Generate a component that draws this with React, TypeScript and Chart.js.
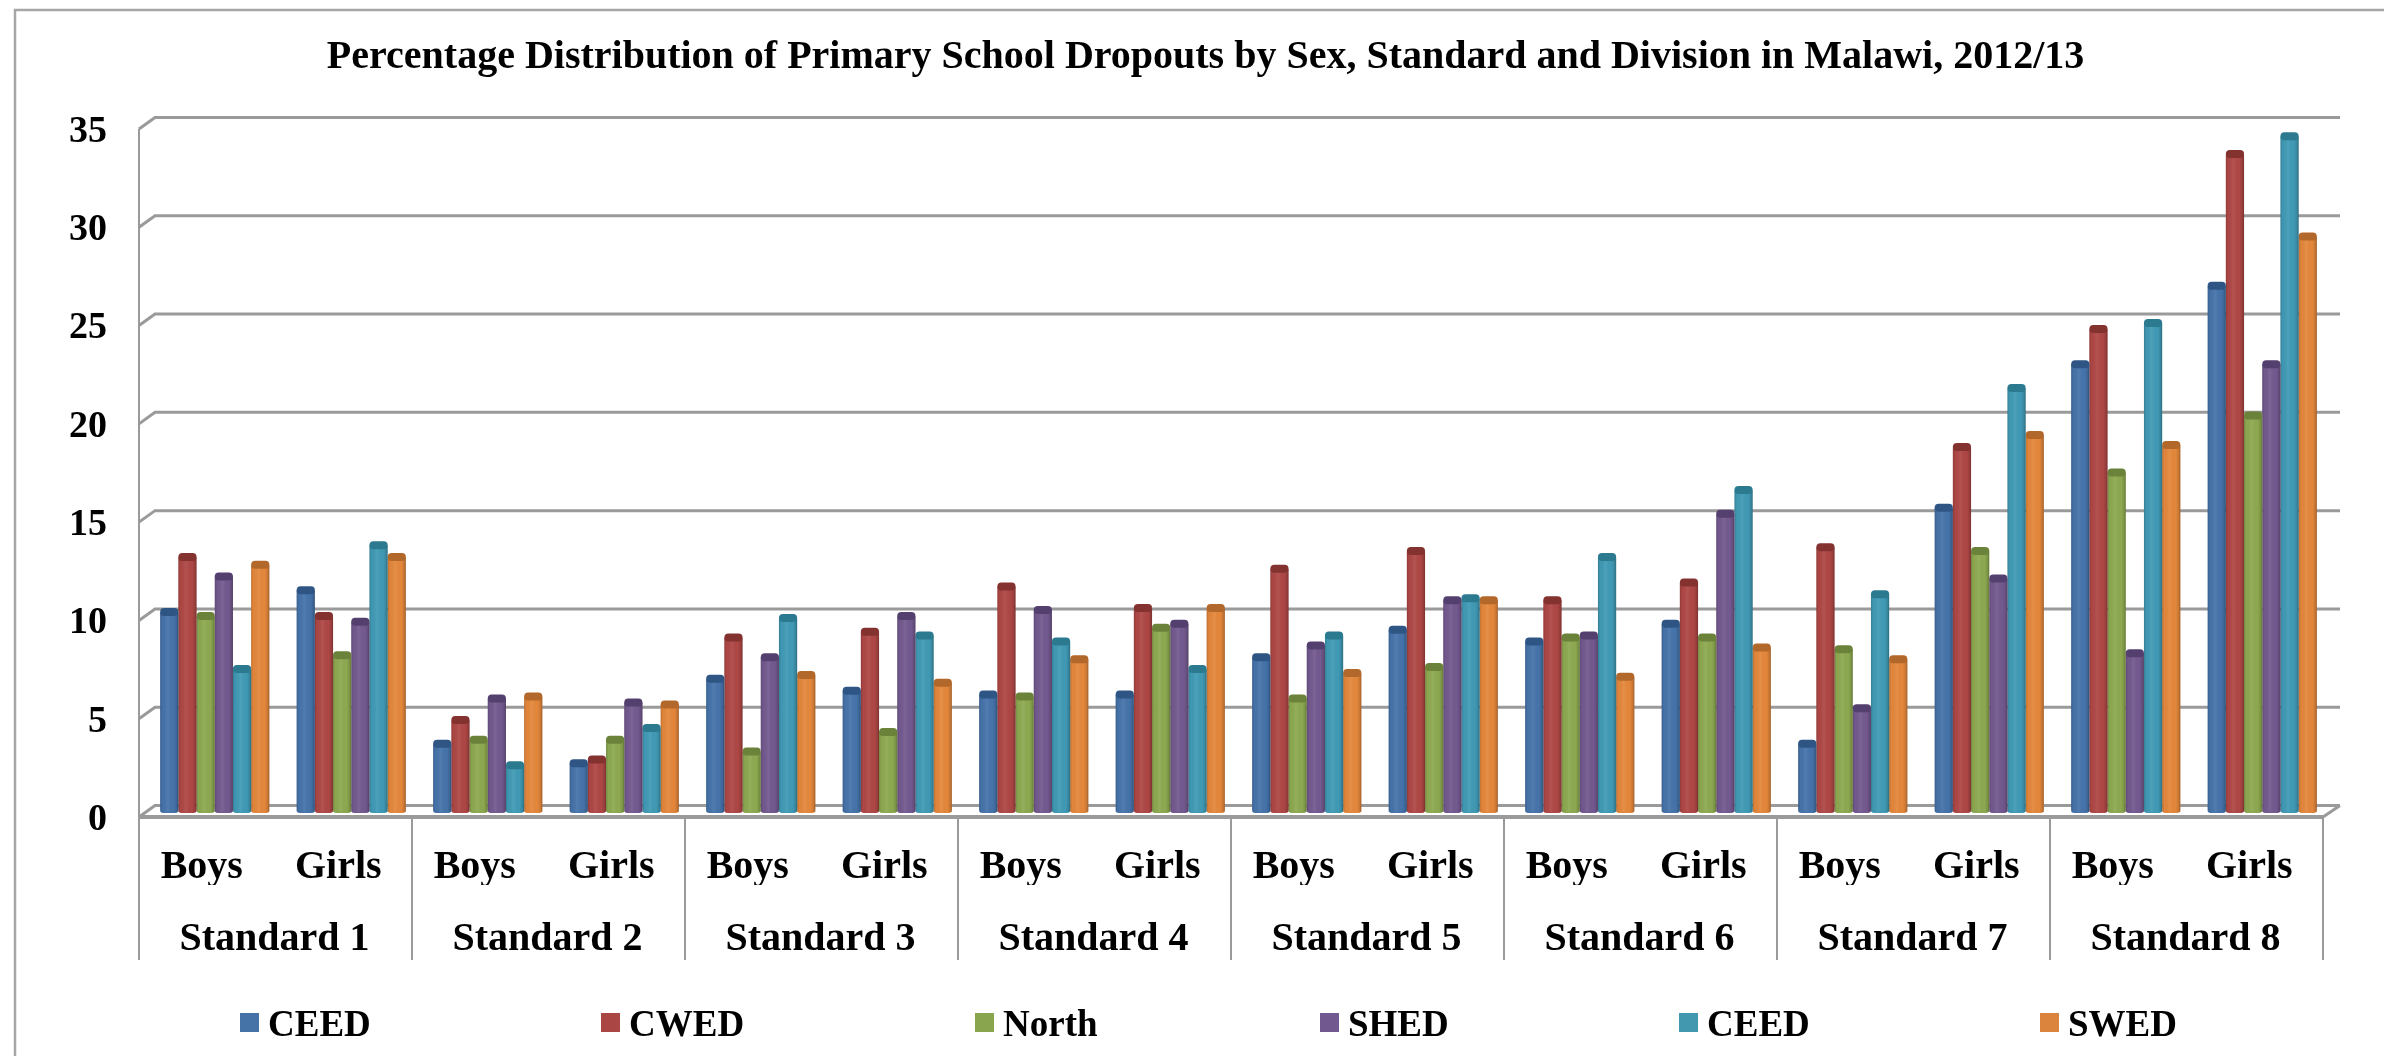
import React, { useEffect, useRef } from "react";
import { Chart, registerables } from "chart.js";

Chart.register(...registerables);

const TITLE = "Percentage Distribution of Primary School Dropouts by Sex, Standard and Division in Malawi, 2012/13";
const FONT = "'Liberation Serif'";
const categories = ["Boys","Girls","Boys","Girls","Boys","Girls","Boys","Girls","Boys","Girls","Boys","Girls","Boys","Girls","Boys","Girls"];
const standards = ["Standard 1","Standard 2","Standard 3","Standard 4","Standard 5","Standard 6","Standard 7","Standard 8"];
const seriesNames = ["CEED","CWED","North","SHED","CEED","SWED"];
const seriesColors = ["#4573AA","#AE4745","#8DA950","#73598F","#409AB5","#E4873B"];
const seriesTops = ["#2f5584","#843230","#6b823a","#54406e","#2c7a8f","#b3682b"];
const legendSwatches = ["#4572A7","#AA4643","#89A54E","#71588F","#4198AF","#DB843D"];
const ceed1 = [10.2,11.3,3.5,2.5,6.8,6.2,6.0,6.0,7.9,9.3,8.7,9.6,3.5,15.5,22.8,26.8];
const cwed = [13.0,10.0,4.7,2.7,8.9,9.2,11.5,10.4,12.4,13.3,10.8,11.7,13.5,18.6,24.6,33.5];
const north = [10.0,8.0,3.7,3.7,3.1,4.1,5.9,9.4,5.8,7.4,8.9,8.9,8.3,13.3,17.3,20.2];
const shed = [12.0,9.7,5.8,5.6,7.9,10.0,10.3,9.6,8.5,10.8,9.0,15.2,5.3,11.9,8.1,22.8];
const ceed2 = [7.3,13.6,2.4,4.3,9.9,9.0,8.7,7.3,9.0,10.9,13.0,16.4,11.1,21.6,24.9,34.4];
const swed = [12.6,13.0,5.9,5.5,7.0,6.6,7.8,10.4,7.1,10.8,6.9,8.4,7.8,19.2,18.7,29.3];
const seriesValues = [ceed1, cwed, north, shed, ceed2, swed];
const legendLeft = [240, 601, 975, 1320, 1679, 2040];

const GRID = "#9a9a9a";

const frame = {
  id: "frame",
  beforeDraw(chart: any) {
    const c = chart.ctx;
    c.save();
    c.strokeStyle = "#a6a6a6";
    c.lineWidth = 2.5;
    c.beginPath();
    c.moveTo(15, 1056);
    c.lineTo(15, 10);
    c.lineTo(2384, 10);
    c.stroke();
    c.restore();
  },
};

const widenLabels = {
  id: "widenLabels",
  afterLayout(chart: any) {
    // the y tick labels are wider than the box the title centring leaves them
    chart.scales.y.left = 40;
  },
};

const walls = {
  id: "walls",
  beforeDatasetsDraw(chart: any) {
    const c = chart.ctx;
    const y = chart.scales.y;
    const x2 = chart.scales.x2;
    const back = (v: number) => y.getPixelForValue(v) - 7.5;
    const front = (v: number) => y.getPixelForValue(v) + 4;
    const step = x2.getPixelForValue(1) - x2.getPixelForValue(0);
    const frontLeft = chart.chartArea.left - 7.5;
    const frontRight = chart.chartArea.right - 7.5;
    c.save();
    c.lineCap = "butt";
    c.strokeStyle = GRID;
    for (const t of y.ticks) {
      c.lineWidth = 3;
      c.beginPath();
      c.moveTo(frontLeft, front(t.value));
      c.lineTo(frontLeft + 16, back(t.value));
      c.lineTo(frontRight + 17, back(t.value));
      c.stroke();
    }
    c.lineWidth = 2;
    c.beginPath();
    c.moveTo(frontLeft, front(35));
    c.lineTo(frontLeft, front(0));
    c.stroke();
    c.lineWidth = 3;
    c.beginPath();
    c.moveTo(frontRight, front(0));
    c.lineTo(frontRight + 17, back(0));
    c.stroke();
    c.lineWidth = 2;
    for (let i = 0; i <= standards.length; i++) {
      const px = frontLeft + i * step;
      c.beginPath();
      c.moveTo(px, front(0));
      c.lineTo(px, x2.bottom);
      c.stroke();
    }
    c.lineWidth = 4;
    c.beginPath();
    c.moveTo(frontLeft, front(0));
    c.lineTo(frontRight, front(0));
    c.stroke();
    c.restore();
  },
};

const cylinders = {
  id: "cylinders",
  afterDatasetDraw(chart: any, args: any) {
    const c = chart.ctx;
    const meta = args.meta;
    const top = seriesTops[args.index];
    c.save();
    for (const bar of meta.data) {
      const w = bar.width;
      const l = bar.x - w / 2;
      const g = c.createLinearGradient(l, 0, l + w, 0);
      g.addColorStop(0, "rgba(0,0,0,0.18)");
      g.addColorStop(0.12, "rgba(0,0,0,0.02)");
      g.addColorStop(0.42, "rgba(255,255,255,0.07)");
      g.addColorStop(0.75, "rgba(0,0,0,0.0)");
      g.addColorStop(0.9, "rgba(0,0,0,0.12)");
      g.addColorStop(1, "rgba(0,0,0,0.30)");
      c.fillStyle = g;
      c.fillRect(l, bar.y, w, bar.base - bar.y - 1);
      c.fillStyle = top;
      c.beginPath();
      c.roundRect(l, bar.y - 4.5, w, 8, 4);
      c.fill();
    }
    c.restore();
  },
};

const legendBlock = {
  id: "legendBlock",
  afterDraw(chart: any) {
    const c = chart.ctx;
    c.save();
    c.font = `bold 37px ${FONT}`;
    c.textBaseline = "middle";
    c.textAlign = "left";
    seriesNames.forEach((name, i) => {
      const x = legendLeft[i];
      c.fillStyle = legendSwatches[i];
      c.fillRect(x, 1013, 19, 19);
      c.fillStyle = "#000";
      c.fillText(name, x + 28, 1026);
    });
    c.restore();
  },
};

export default function App() {
  const ref = useRef<HTMLCanvasElement>(null);
  useEffect(() => {
    const chart = new Chart(ref.current as HTMLCanvasElement, {
      type: "bar",
      data: {
        labels: categories,
        datasets: seriesValues.map((data, i) => ({
          label: seriesNames[i],
          data,
          backgroundColor: seriesColors[i],
          borderWidth: 0,
          borderRadius: { topLeft: 0, topRight: 0, bottomLeft: 3, bottomRight: 3 },
          borderSkipped: false,
          categoryPercentage: 0.8,
          barPercentage: 1,
          xAxisID: "x",
          yAxisID: "y",
        })),
      },
      options: {
        responsive: false,
        animation: false,
        layout: { padding: { left: 80.7, right: 53.5, top: 0, bottom: 96 } },
        plugins: {
          legend: { display: false },
          tooltip: { enabled: false },
          title: {
            display: true,
            text: TITLE,
            color: "#000",
            font: { family: FONT, size: 40, weight: "bold", lineHeight: 1 },
            padding: { top: 38, bottom: 47 },
          },
        },
        scales: {
          x: {
            type: "category",
            position: "bottom",
            weight: 0,
            offset: true,
            grid: { display: false, drawTicks: false },
            border: { display: false },
            ticks: {
              color: "#000",
              font: { family: FONT, size: 40, weight: "bold" },
              autoSkip: false,
              maxRotation: 0,
              minRotation: 0,
              padding: 31,
              labelOffset: -13,
            },
            afterFit: (s: any) => { s.height = 72; },
          },
          x2: {
            type: "category",
            axis: "x",
            position: "bottom",
            weight: 1,
            offset: true,
            labels: standards,
            grid: { display: false, drawTicks: false },
            border: { display: false },
            ticks: {
              color: "#000",
              font: { family: FONT, size: 40, weight: "bold" },
              autoSkip: false,
              maxRotation: 0,
              minRotation: 0,
              padding: 31,
              labelOffset: -8.5,
            },
            afterFit: (s: any) => { s.height = 75; },
          },
          y: {
            type: "linear",
            min: 0,
            max: 35,
            position: "left",
            grid: { display: false, drawTicks: false },
            border: { display: false },
            ticks: {
              stepSize: 5,
              color: "#000",
              font: { family: FONT, size: 38, weight: "bold" },
              padding: 39.5,
              labelOffset: 7,
            },
            afterFit: (s: any) => { s.width = 65.8; },
          },
        },
      },
      plugins: [frame, widenLabels, walls, cylinders, legendBlock],
    } as any);
    return () => chart.destroy();
  }, []);
  return (
    <div style={{ position: "fixed", left: 0, top: 0, width: 2384, height: 1056, background: "#fff" }}>
      <canvas ref={ref} width={2384} height={1056} style={{ display: "block" }} />
    </div>
  );
}
